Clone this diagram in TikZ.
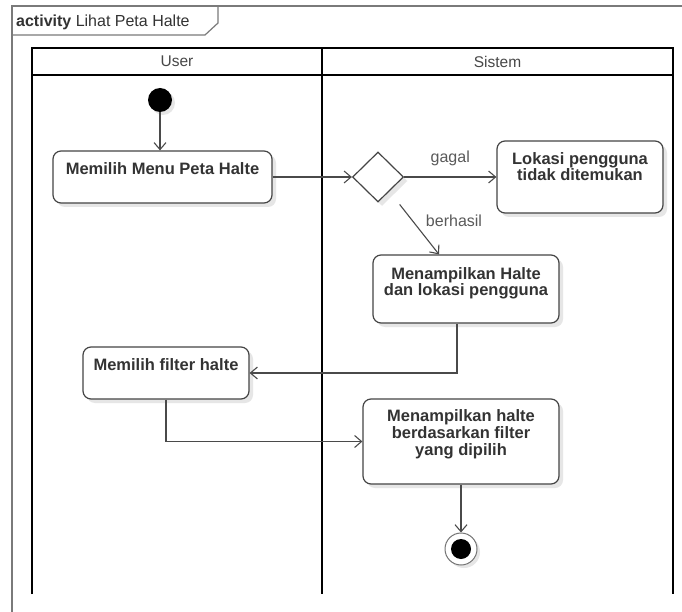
\documentclass[tikz,border=0pt]{standalone}
\usepackage{fontspec}
\setmainfont{Liberation Sans}
\usetikzlibrary{arrows.meta,shapes.geometric,shadows}
\newfontfamily\diagfont{Liberation Sans}
\newcommand{\actfont}{\diagfont\bfseries\fontsize{16.5}{17}\selectfont}
\newcommand{\guardfont}{\diagfont\fontsize{16}{18}\selectfont}
\newcommand{\headfont}{\diagfont\fontsize{15.5}{18}\selectfont}
\definecolor{framegray}{HTML}{7A7A7A}
\definecolor{boxline}{HTML}{454545}
\definecolor{flowline}{HTML}{4A4A4A}
\definecolor{boxtext}{HTML}{333333}
\definecolor{guardtext}{HTML}{5A5A5A}
\definecolor{shade}{HTML}{E6E6E6}
\tikzset{
  actbox/.style={draw=boxline, line width=1.2pt, rounded corners=8pt, fill=white,
    inner sep=0pt, drop shadow={shadow xshift=4pt, shadow yshift=-4pt, fill=shade, opacity=1}},
  acttext/.style={anchor=north, inner sep=0pt, align=center, font=\actfont, text=boxtext},
  flow/.style={draw=flowline, line width=1.1pt,
    -{Straight Barb[length=7pt,width=12pt,line width=1.1pt]}},
  lane/.style={draw=black, line width=2pt},
  guard/.style={anchor=base, inner sep=0pt, font=\guardfont, text=guardtext},
  lanehead/.style={inner sep=0pt, font=\headfont, text=black!72},
}
\begin{document}
\begin{tikzpicture}[x=1pt,y=-1pt]
\useasboundingbox (0,0) rectangle (682,612);
\fill[white] (0,0) rectangle (682,612);

% activity frame and its name tab
\draw[framegray, line width=1.2pt] (12,612) -- (12,6) -- (682,6);
\draw[framegray, line width=1.2pt] (218,6) -- (218,23) -- (205,35) -- (12,35);
\node[anchor=base west, inner sep=0pt, font=\diagfont\fontsize{16}{18}\selectfont, text=boxtext]
  (title) at (16,27) {\textbf{activity} Lihat Peta Halte};

% swimlanes
\draw[lane] (32,594) -- (32,48) -- (673,48) -- (673,594);
\draw[lane] (32,75) -- (673,75);
\draw[lane] (322,48) -- (322,594);
\node[lanehead] (hUser) at (177,61.5) {User};
\node[lanehead] (hSistem) at (497.5,61.5) {Sistem};

% start node
\node[circle, fill=black, minimum size=24pt, inner sep=0pt,
  drop shadow={shadow xshift=3pt, shadow yshift=-3pt, fill=shade, opacity=1}] (start) at (160,100) {};

% actions
\node[actbox, minimum width=219pt, minimum height=52pt] (n1) at (162.5,177) {};
\node[acttext] (n1t) at (162.5,162) {Memilih Menu Peta Halte};

\node[draw=boxline, line width=1.2pt, diamond, minimum width=51pt, minimum height=50pt,
  inner sep=0pt, fill=white,
  drop shadow={shadow xshift=4pt, shadow yshift=-4pt, fill=shade, opacity=1}] (dia) at (378,177) {};

\node[actbox, minimum width=166pt, minimum height=72pt] (lok) at (580,177) {};
\node[acttext] (lokt) at (580,152) {Lokasi pengguna\\[-1pt]tidak ditemukan};

\node[actbox, minimum width=186pt, minimum height=68pt] (n3) at (466,289) {};
\node[acttext] (n3t) at (466,267) {Menampilkan Halte\\[-1pt]dan lokasi pengguna};

\node[actbox, minimum width=166pt, minimum height=52pt] (n4) at (166,373) {};
\node[acttext] (n4t) at (166,358) {Memilih filter halte};

\node[actbox, minimum width=196pt, minimum height=85pt] (n5) at (461,441.5) {};
\node[acttext] (n5t) at (461,409) {Menampilkan halte\\[0pt]berdasarkan filter\\[0pt]yang dipilih};

% final node
\node[circle, draw=black!55, line width=1pt, fill=white, minimum size=32pt, inner sep=0pt,
  drop shadow={shadow xshift=3pt, shadow yshift=-3pt, fill=shade, opacity=1}] (end) at (461,549) {};
\node[circle, fill=black, minimum size=20pt, inner sep=0pt] (endin) at (end.center) {};

% control flows
\coordinate (x3out) at (457,0);
\coordinate (x3in) at (439,0);
\draw[flow] (start.south) -- (start.south |- n1.north);
\draw[flow] (n1.east) -- (dia.west);
\draw[flow] (dia.east) -- (lok.west) node[guard, pos=0.5, yshift=14pt] (gGagal) {gagal};
\draw[flow, shorten <=35pt] (dia.center) -- (n3.north -| x3in);
\node[guard] (gBerhasil) at (454,226) {berhasil};
\draw[flow] (n3.south -| x3out) |- (n4.east);
\draw[flow] (n4.south) |- (n5.west);
\draw[flow] (n5.south) -- (end.north);
\end{tikzpicture}
\end{document}
